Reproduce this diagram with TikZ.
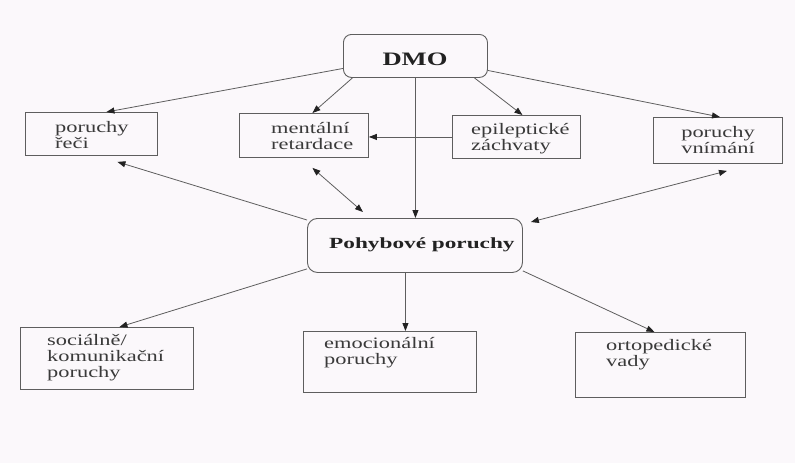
\documentclass[tikz,border=0pt]{standalone}
\usepackage{fontspec}
\setmainfont{Liberation Serif}[FakeStretch=1.4]
\newfontfamily\pfont{Liberation Serif}[FakeStretch=1.5]
\usetikzlibrary{arrows.meta}
\definecolor{bg}{HTML}{FBF8FB}
\definecolor{ln}{HTML}{5E5E5E}
\definecolor{tx}{HTML}{3A3A3A}
\definecolor{hd}{HTML}{222222}
\begin{document}
\begin{tikzpicture}[x=1pt,y=-1pt,
  box/.style={draw=ln, line width=0.9pt, inner sep=0pt, anchor=north west},
  lbl/.style={text=tx, inner sep=0pt, align=left, anchor=west,
    font=\fontsize{16}{16}\selectfont},
  arr/.style={draw=ln, line width=0.8pt, -{Triangle[length=8pt,width=6pt,color=hd]}},
  darr/.style={draw=ln, line width=0.8pt, {Triangle[length=8pt,width=6pt,color=hd]}-{Triangle[length=8pt,width=6pt,color=hd]}}]
\fill[bg] (0,0) rectangle (795,463);
\useasboundingbox (0,0) rectangle (795,463);

% boxes
\node[box, rounded corners=8pt, minimum width=144pt, minimum height=43pt] (dmo) at (343,34) {};
\node[box, minimum width=132pt, minimum height=43pt] (reci) at (25,112) {};
\node[box, minimum width=129pt, minimum height=44pt] (ment) at (239,113) {};
\node[box, minimum width=128pt, minimum height=43pt] (epil) at (452,115) {};
\node[box, minimum width=129pt, minimum height=46pt] (vnim) at (653,117) {};
\node[box, rounded corners=10pt, minimum width=215pt, minimum height=54pt] (pohyb) at (307,218) {};
\node[box, minimum width=173pt, minimum height=62pt] (soc) at (20,327) {};
\node[box, minimum width=173pt, minimum height=61pt] (emoc) at (303,331) {};
\node[box, minimum width=170pt, minimum height=65pt] (orto) at (575,332) {};

% texts
\node[lbl, anchor=center, text=hd, font=\bfseries\fontsize{19}{19}\selectfont] (tdmo) at (415,59) {DMO};
\node[lbl] (treci) at (55,135) {poruchy\\řeči};
\node[lbl] (tment) at (271,136) {mentální\\retardace};
\node[lbl] (tepil) at (471,139) {epileptické\\záchvaty};
\node[lbl, anchor=center, align=center] (tvnim) at (718,140) {poruchy\\vnímání};
\node[lbl, text=hd, font=\pfont\bfseries\fontsize{15.5}{16}\selectfont] (tpohyb) at (329,245) {Pohybové poruchy};
\node[lbl] (tsoc) at (47,358) {sociálně/\\komunikační\\poruchy};
\node[lbl] (temoc) at (324,353) {emocionální\\poruchy};
\node[lbl] (torto) at (606,355) {ortopedické\\vady};

% connectors from DMO
\draw[arr] ([yshift=-12.5pt]dmo.west) -- ([xshift=15pt]reci.north);
\draw[arr] ([xshift=-63pt]dmo.south) -- ([xshift=8.5pt]ment.north);
\draw[arr] (dmo.south) -- (dmo.south |- pohyb.north);
\draw[arr] ([xshift=59pt]dmo.south) -- ([xshift=6pt]epil.north);
\draw[arr] ([yshift=-14.5pt]dmo.east) -- ([xshift=2pt]vnim.north);
\draw[arr] (epil.west) -- (epil.west -| ment.east);

% connectors around Pohybove poruchy
\draw[arr] ([yshift=-2pt]pohyb.north west) -- ([xshift=26pt,yshift=-6pt]reci.south);
\draw[darr] ([xshift=8.5pt,yshift=-10pt]ment.south) -- ([xshift=-52pt,yshift=6pt]pohyb.north);
\draw[darr] ([xshift=9pt,yshift=-7pt]vnim.south) -- ([xshift=8pt,yshift=-4pt]pohyb.north east);
\draw[arr] ([yshift=4pt]pohyb.south west) -- ([xshift=12.5pt]soc.north);
\draw[arr] ([xshift=-9.5pt]pohyb.south) -- ([xshift=-9.5pt]pohyb.south |- emoc.north);
\draw[arr] ([yshift=2pt]pohyb.south east) -- ([xshift=-6pt]orto.north);
\end{tikzpicture}
\end{document}
